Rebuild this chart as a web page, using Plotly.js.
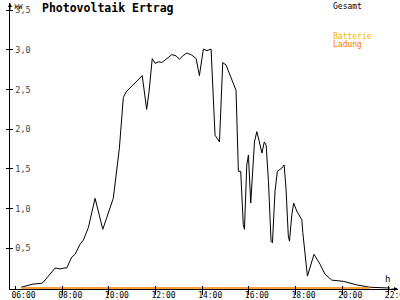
<!DOCTYPE html>
<html><head><meta charset="utf-8">
<script src="https://cdn.plot.ly/plotly-3.0.1.min.js"></script>
<style>body{margin:0;background:#fff;overflow:hidden}#c{width:400px;height:300px}</style>
</head><body><div id="c"></div>
<script>
const hours = [6.24,6.62,6.75,7.12,7.18,7.69,7.74,7.91,8.12,8.19,8.41,8.55,8.76,8.91,9.12,9.41,9.74,10.19,10.45,10.62,10.74,11.43,11.62,11.72,11.86,11.98,12.15,12.27,12.48,12.70,12.88,13.02,13.17,13.34,13.55,13.74,13.88,14.05,14.20,14.38,14.55,14.74,14.88,15.02,15.45,15.55,15.65,15.76,15.81,15.91,15.98,16.08,16.24,16.34,16.45,16.56,16.66,16.74,16.84,16.95,17.01,17.12,17.22,17.41,17.51,17.59,17.69,17.74,17.84,17.92,18.05,18.27,18.31,18.51,18.79,19.05,19.26,19.55,20.04,20.62,21.19,22.05];
const gesamt = [0.01,0.04,0.05,0.06,0.07,0.25,0.25,0.24,0.255,0.25,0.39,0.425,0.55,0.605,0.76,1.13,0.74,1.13,1.76,2.40,2.47,2.675,2.25,2.47,2.89,2.83,2.85,2.84,2.89,2.94,2.925,2.88,2.925,2.96,2.935,2.89,2.675,3.01,2.99,3.01,1.925,1.84,2.84,2.81,2.49,1.47,1.47,0.80,0.74,1.55,1.675,1.07,1.84,1.97,1.84,1.70,1.84,1.80,1.34,0.59,0.57,1.22,1.47,1.51,1.55,1.26,0.655,0.59,0.925,1.07,0.97,0.86,0.70,0.15,0.425,0.30,0.175,0.10,0.085,0.04,0.01,0.0];
const ladungHours = [6.24,21.19];
const ladung = [0,0];
const xTickVals = [6,8,10,12,14,16,18,20,22];
const xTickText = ["06:00","08:00","10:00","12:00","14:00","16:00","18:00","20:00","22:00"];
const yTickVals = [0.5,1.0,1.5,2.0,2.5,3.0,3.5];
const yTickText = ["0,5","1,0","1,5","2,0","2,5","3,0","3,5"];

const mono = "DejaVu Sans Mono, monospace";
const traces = [
  {x: hours, y: gesamt, type:'scatter', mode:'lines', line:{color:'#000', width:1}, hoverinfo:'skip'},
  {x: ladungHours, y: ladung, type:'scatter', mode:'lines', line:{color:'#FF8000', width:1.5}, hoverinfo:'skip'},
  {x:[6], y:[0], xaxis:'x2', yaxis:'y2', mode:'markers', marker:{opacity:0}, hoverinfo:'skip'}
];
const xr = [5.764, 22.39], yr = [-0.012, 3.59];
const layout = {
  width:400, height:300, margin:{l:10, r:2, t:3, b:11},
  paper_bgcolor:'#fff', plot_bgcolor:'#fff', showlegend:false,
  font:{family:mono, size:8, color:'#000'},
  xaxis:{range:xr, tickvals:xTickVals, ticks:'outside', ticklen:5, tickcolor:'#000', showticklabels:false,
         showgrid:false, zeroline:false, showline:true, linecolor:'#000', linewidth:1, layer:'below traces'},
  yaxis:{range:yr, tickvals:yTickVals, ticktext:yTickText, ticks:'outside', ticklen:3, tickcolor:'#000',
         showgrid:false, zeroline:false, showline:true, linecolor:'#000', linewidth:1,
         ticklabelposition:'inside', ticklabelstandoff:4, tickfont:{family:mono, size:8.5}},
  xaxis2:{range:xr, overlaying:'x', anchor:'y2', side:'bottom', tickvals:xTickVals, ticktext:xTickText,
          ticks:'inside', ticklen:3, tickcolor:'#000',
          tickfont:{family:mono, size:8}, ticklabelshift:8, ticklabelstandoff:0, ticklabeloverflow:'allow',
          showgrid:false, zeroline:false, showline:false},
  yaxis2:{range:yr, overlaying:'y', tickvals:yTickVals, ticks:'inside', ticklen:3, tickcolor:'#000',
          showticklabels:false, showgrid:false, zeroline:false, showline:false},
  annotations:[
    {text:'<b>Photovoltaik Ertrag</b>', xref:'paper', yref:'paper', x:0.077, y:1.0, xanchor:'left', yanchor:'middle',
     showarrow:false, font:{family:mono, size:11.5, color:'#000'}, yshift:-5},
    {text:'kW', xref:'paper', yref:'paper', x:0.005, y:1.0, xanchor:'left', yanchor:'top', showarrow:false,
     font:{family:mono, size:7}, yshift:2},
    {text:'h', xref:'paper', yref:'paper', x:0.962, y:0, xanchor:'left', yanchor:'bottom', showarrow:false,
     font:{family:mono, size:9}, yshift:3},
    {text:'Gesamt', xref:'paper', yref:'paper', x:0.828, y:1.0, xanchor:'left', yanchor:'top', showarrow:false,
     font:{family:mono, size:8, color:'#000'}, yshift:3},
    {text:'Batterie', xref:'paper', yref:'paper', x:0.828, y:0.905, xanchor:'left', yanchor:'top', showarrow:false,
     font:{family:mono, size:8, color:'#FFB000'}},
    {text:'Ladung', xref:'paper', yref:'paper', x:0.828, y:0.877, xanchor:'left', yanchor:'top', showarrow:false,
     font:{family:mono, size:8, color:'#FF7A00'}},
    {xref:'paper', yref:'paper', x:0, y:1.0, ax:0, ay:8, text:'', showarrow:true,
     arrowhead:2, arrowsize:0.8, arrowwidth:1, arrowcolor:'#000'},
    {xref:'paper', yref:'paper', x:1.0, y:0, ax:-8, ay:0, text:'', showarrow:true,
     arrowhead:2, arrowsize:0.8, arrowwidth:1, arrowcolor:'#000'}
  ]
};
Plotly.newPlot('c', traces, layout, {staticPlot:true, displayModeBar:false});
</script></body></html>
